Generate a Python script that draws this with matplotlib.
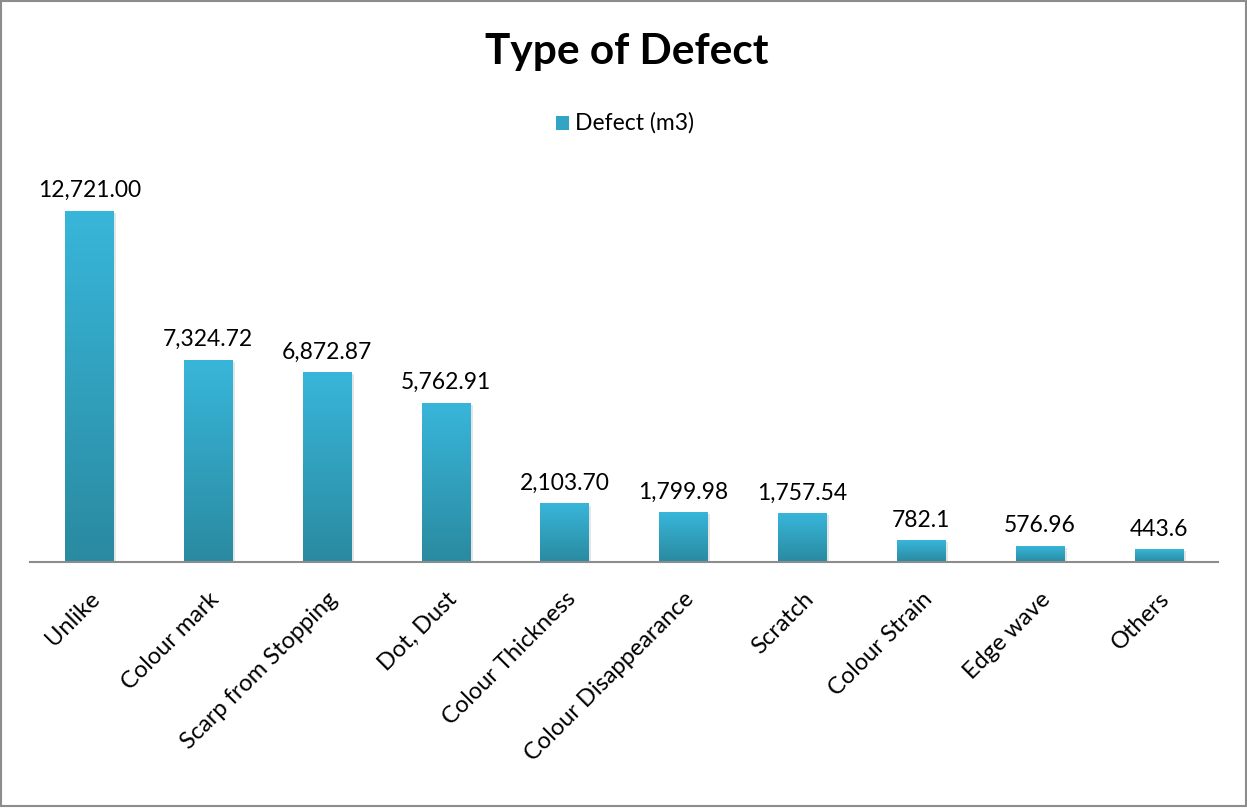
import matplotlib.pyplot as plt
import numpy as np
from matplotlib.colors import LinearSegmentedColormap
from matplotlib.patches import Rectangle

plt.rcParams['font.family'] = ['Lato', 'DejaVu Sans']

categories = ['Unlike', 'Colour mark', 'Scarp from Stopping', 'Dot, Dust',
              'Colour Thickness', 'Colour Disappearance', 'Scratch',
              'Colour Strain', 'Edge wave', 'Others']
defect = [12721.00, 7324.72, 6872.87, 5762.91, 2103.70,
          1799.98, 1757.54, 782.1, 576.96, 443.6]
value_labels = ['12,721.00', '7,324.72', '6,872.87', '5,762.91', '2,103.70',
                '1,799.98', '1,757.54', '782.1', '576.96', '443.6']

fig = plt.figure(figsize=(12.47, 8.09), dpi=100)
ax = fig.add_axes([0.024, 0.3053, 0.953, 0.4772])

# light top -> dark bottom, like an Excel gradient fill
grad = LinearSegmentedColormap.from_list('bar', ['#2a8aa0', '#38b6da'])
gimg = np.linspace(0, 1, 256).reshape(-1, 1)

width = 0.41
x = np.arange(len(categories))
for xi, v, lab in zip(x, defect, value_labels):
    # soft drop shadow
    ax.add_patch(Rectangle((xi - width / 2 + 0.02, -60), width, v,
                           facecolor='#999999', alpha=0.25, lw=0, zorder=1))
    ax.imshow(gimg, cmap=grad, origin='lower', aspect='auto',
              extent=(xi - width / 2, xi + width / 2, 0, v), zorder=2)
    ax.annotate(lab, (xi, v), xytext=(0, 10), textcoords='offset points',
                ha='center', va='baseline', fontsize=16.5, color='black')

ax.set_xlim(-0.5, len(categories) - 0.5)
ax.set_ylim(0, 14000)
ax.set_yticks([])
ax.set_xticks(x)
ax.set_xticklabels(categories, rotation=45, ha='right', rotation_mode='anchor',
                   fontsize=17)
ax.tick_params(axis='x', length=0, pad=19)
for s in ['top', 'right', 'left']:
    ax.spines[s].set_visible(False)
ax.spines['bottom'].set_color('#8c8c8c')
ax.spines['bottom'].set_linewidth(1.5)
ax.patch.set_alpha(0)

fig.text(0.503, 0.936, 'Type of Defect', ha='center', va='center',
         fontsize=30.5, fontweight='bold')

# legend
fig.patches.append(Rectangle((0.4455, 0.8395), 0.0105, 0.0165,
                             transform=fig.transFigure, facecolor='#32a4c4',
                             edgecolor='none'))
fig.text(0.4615, 0.848, 'Defect (m3)', ha='left', va='center', fontsize=16.5)

# chart border
fig.patches.append(Rectangle((0.001, 0.004), 0.998, 0.995,
                             transform=fig.transFigure, fill=False,
                             edgecolor='#8c8c8c', linewidth=1.5))

fig.savefig('out.png', dpi=100)
